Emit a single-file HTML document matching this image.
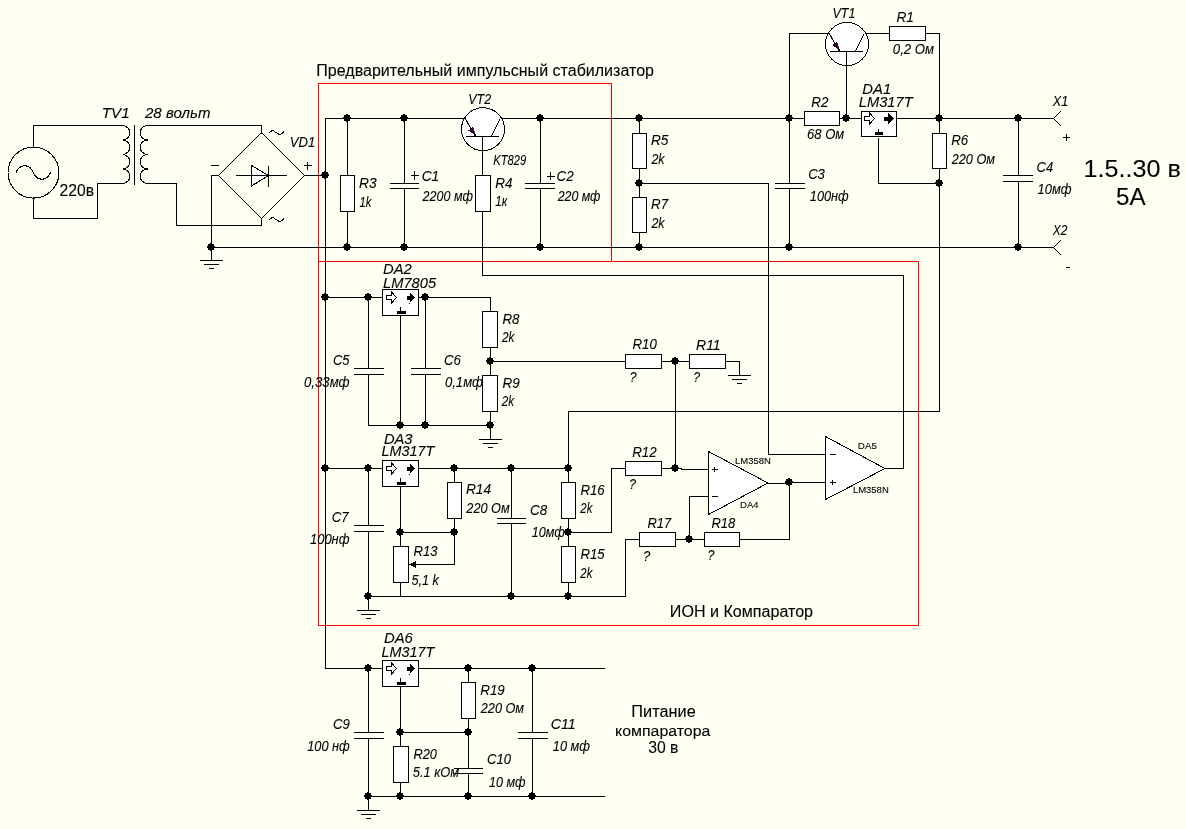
<!DOCTYPE html>
<html><head><meta charset="utf-8"><style>html,body{margin:0;padding:0;background:#fffff2;}svg{display:block;}</style></head>
<body><svg width="1186" height="829" viewBox="0 0 1186 829">
<rect width="1186" height="829" fill="#fffff2"/>
<g fill="none" stroke="#ff0000" stroke-width="1" shape-rendering="crispEdges"><rect x="318.5" y="83.5" width="293" height="178"/><rect x="318.5" y="261.5" width="600" height="364"/></g>
<g fill="none" stroke="#000" stroke-width="1" stroke-linecap="square" shape-rendering="crispEdges"><path d="M33.5,125.5 L33.5,147.5"/><path d="M33.5,125.5 L122.5,125.5"/><path d="M33.5,197.5 L33.5,218.5"/><path d="M33.5,218.5 L97.5,218.5"/><path d="M97.5,218.5 L97.5,183.5"/><path d="M97.5,183.5 L122.5,183.5"/><path d="M134.5,125.5 L134.5,184.5"/><path d="M147.5,125.5 L261.5,125.5"/><path d="M261.5,125.5 L261.5,133.5"/><path d="M147.5,183.5 L176.5,183.5"/><path d="M176.5,183.5 L176.5,225.5"/><path d="M176.5,225.5 L261.5,225.5"/><path d="M261.5,225.5 L261.5,218.5"/><path d="M211.5,175.5 L218.5,175.5"/><path d="M211.5,175.5 L211.5,247.5"/><path d="M304.5,175.5 L325.5,175.5"/><path d="M211.5,247.5 L211.5,260.5"/><path d="M200.5,260.5 L222.5,260.5"/><path d="M204.5,264.5 L218.5,264.5"/><path d="M209.5,268.5 L213.5,268.5"/><path d="M211.5,165.5 L218.5,165.5"/><path d="M304.5,165.5 L311.5,165.5"/><path d="M307.5,162.5 L307.5,169.5"/><path d="M211.5,247.5 L1053.5,247.5"/><path d="M325.5,118.5 L325.5,668.5"/><path d="M325.5,118.5 L465.5,118.5"/><path d="M500.5,118.5 L804.5,118.5"/><path d="M839.5,118.5 L861.5,118.5"/><path d="M896.5,118.5 L1053.5,118.5"/><path d="M347.5,118.5 L347.5,247.5"/><path d="M404.5,118.5 L404.5,183.5"/><path d="M404.5,188.5 L404.5,247.5"/><path d="M390.5,183.5 L418.5,183.5"/><path d="M390.5,188.5 L418.5,188.5"/><path d="M411.5,175.5 L418.5,175.5"/><path d="M414.5,171.5 L414.5,179.5"/><path d="M482.5,136.5 L482.5,275.5"/><path d="M482.5,275.5 L903.5,275.5"/><path d="M903.5,275.5 L903.5,468.5"/><path d="M885.5,468.5 L903.5,468.5"/><path d="M540.5,118.5 L540.5,183.5"/><path d="M540.5,188.5 L540.5,247.5"/><path d="M525.5,183.5 L554.5,183.5"/><path d="M525.5,188.5 L554.5,188.5"/><path d="M547.5,176.5 L554.5,176.5"/><path d="M550.5,172.5 L550.5,179.5"/><path d="M639.5,118.5 L639.5,247.5"/><path d="M639.5,183.5 L768.5,183.5"/><path d="M768.5,183.5 L768.5,454.5"/><path d="M768.5,454.5 L825.5,454.5"/><path d="M789.5,33.5 L789.5,118.5"/><path d="M789.5,118.5 L789.5,183.5"/><path d="M789.5,188.5 L789.5,247.5"/><path d="M775.5,183.5 L804.5,183.5"/><path d="M775.5,188.5 L804.5,188.5"/><path d="M789.5,33.5 L829.5,33.5"/><path d="M846.5,51.5 L846.5,118.5"/><path d="M864.5,33.5 L889.5,33.5"/><path d="M925.5,33.5 L939.5,33.5"/><path d="M939.5,33.5 L939.5,411.5"/><path d="M878.5,138.5 L878.5,183.5"/><path d="M878.5,183.5 L939.5,183.5"/><path d="M1018.5,118.5 L1018.5,175.5"/><path d="M1018.5,181.5 L1018.5,247.5"/><path d="M1003.5,175.5 L1032.5,175.5"/><path d="M1003.5,181.5 L1032.5,181.5"/><path d="M1063.5,137.5 L1069.5,137.5"/><path d="M1066.5,134.5 L1066.5,140.5"/><path d="M1066.5,267.5 L1069.5,267.5"/><path d="M325.5,297.5 L382.5,297.5"/><path d="M418.5,297.5 L490.5,297.5"/><path d="M490.5,297.5 L490.5,311.5"/><path d="M368.5,297.5 L368.5,368.5"/><path d="M354.5,368.5 L383.5,368.5"/><path d="M354.5,374.5 L383.5,374.5"/><path d="M368.5,374.5 L368.5,425.5"/><path d="M425.5,297.5 L425.5,368.5"/><path d="M411.5,368.5 L440.5,368.5"/><path d="M411.5,374.5 L440.5,374.5"/><path d="M425.5,374.5 L425.5,425.5"/><path d="M400.5,315.5 L400.5,425.5"/><path d="M368.5,425.5 L490.5,425.5"/><path d="M490.5,311.5 L490.5,425.5"/><path d="M490.5,425.5 L490.5,439.5"/><path d="M479.5,439.5 L501.5,439.5"/><path d="M483.5,443.5 L497.5,443.5"/><path d="M488.5,447.5 L492.5,447.5"/><path d="M490.5,361.5 L625.5,361.5"/><path d="M661.5,361.5 L689.5,361.5"/><path d="M725.5,361.5 L739.5,361.5"/><path d="M739.5,361.5 L739.5,375.5"/><path d="M739.5,361.5 L739.5,375.5"/><path d="M728.5,375.5 L750.5,375.5"/><path d="M732.5,379.5 L746.5,379.5"/><path d="M737.5,383.5 L741.5,383.5"/><path d="M675.5,361.5 L675.5,468.5"/><path d="M325.5,468.5 L382.5,468.5"/><path d="M418.5,468.5 L568.5,468.5"/><path d="M368.5,468.5 L368.5,525.5"/><path d="M354.5,525.5 L383.5,525.5"/><path d="M354.5,531.5 L383.5,531.5"/><path d="M368.5,531.5 L368.5,596.5"/><path d="M368.5,596.5 L368.5,610.5"/><path d="M357.5,610.5 L379.5,610.5"/><path d="M361.5,614.5 L375.5,614.5"/><path d="M366.5,618.5 L370.5,618.5"/><path d="M400.5,486.5 L400.5,546.5"/><path d="M400.5,532.5 L454.5,532.5"/><path d="M454.5,468.5 L454.5,564.5"/><path d="M410.5,564.5 L454.5,564.5"/><path d="M400.5,582.5 L400.5,596.5"/><path d="M368.5,596.5 L625.5,596.5"/><path d="M625.5,596.5 L625.5,539.5"/><path d="M625.5,539.5 L639.5,539.5"/><path d="M511.5,468.5 L511.5,518.5"/><path d="M497.5,518.5 L525.5,518.5"/><path d="M497.5,523.5 L525.5,523.5"/><path d="M511.5,523.5 L511.5,596.5"/><path d="M568.5,411.5 L568.5,596.5"/><path d="M568.5,411.5 L939.5,411.5"/><path d="M568.5,532.5 L611.5,532.5"/><path d="M611.5,532.5 L611.5,468.5"/><path d="M611.5,468.5 L681.5,468.5"/><path d="M681.5,468.5 L681.5,469.5"/><path d="M681.5,469.5 L708.5,469.5"/><path d="M689.5,496.5 L708.5,496.5"/><path d="M689.5,496.5 L689.5,539.5"/><path d="M675.5,539.5 L789.5,539.5"/><path d="M789.5,482.5 L789.5,539.5"/><path d="M768.5,483.5 L785.5,483.5"/><path d="M785.5,482.5 L785.5,483.5"/><path d="M785.5,482.5 L825.5,482.5"/><path d="M325.5,668.5 L382.5,668.5"/><path d="M418.5,668.5 L604.5,668.5"/><path d="M368.5,668.5 L368.5,732.5"/><path d="M354.5,732.5 L383.5,732.5"/><path d="M354.5,738.5 L383.5,738.5"/><path d="M368.5,738.5 L368.5,796.5"/><path d="M368.5,796.5 L368.5,810.5"/><path d="M357.5,810.5 L379.5,810.5"/><path d="M361.5,814.5 L375.5,814.5"/><path d="M366.5,818.5 L370.5,818.5"/><path d="M400.5,686.5 L400.5,796.5"/><path d="M400.5,732.5 L468.5,732.5"/><path d="M468.5,668.5 L468.5,768.5"/><path d="M454.5,768.5 L482.5,768.5"/><path d="M454.5,773.5 L482.5,773.5"/><path d="M468.5,773.5 L468.5,796.5"/><path d="M368.5,796.5 L604.5,796.5"/><path d="M532.5,668.5 L532.5,732.5"/><path d="M518.5,732.5 L547.5,732.5"/><path d="M518.5,738.5 L547.5,738.5"/><path d="M532.5,738.5 L532.5,796.5"/></g>
<g stroke="#000" stroke-width="1" shape-rendering="crispEdges"><rect x="340.5" y="175.5" width="14" height="36" fill="#fff"/><rect x="475.5" y="175.5" width="15" height="36" fill="#fff"/><rect x="632.5" y="133.5" width="14" height="35" fill="#fff"/><rect x="632.5" y="197.5" width="14" height="35" fill="#fff"/><rect x="889.5" y="26.5" width="36" height="14" fill="#fff"/><rect x="804.5" y="111.5" width="35" height="14" fill="#fff"/><rect x="861.5" y="111.5" width="35" height="25" fill="#fff"/><rect x="875" y="132" width="8" height="3" fill="#000" stroke="none"/><rect x="932.5" y="133.5" width="14" height="35" fill="#fff"/><rect x="382.5" y="289.5" width="36" height="26" fill="#fff"/><rect x="397" y="311" width="9" height="3" fill="#000" stroke="none"/><rect x="482.5" y="311.5" width="15" height="36" fill="#fff"/><rect x="482.5" y="375.5" width="15" height="36" fill="#fff"/><rect x="625.5" y="354.5" width="36" height="14" fill="#fff"/><rect x="689.5" y="354.5" width="36" height="14" fill="#fff"/><rect x="382.5" y="460.5" width="36" height="26" fill="#fff"/><rect x="397" y="482" width="9" height="3" fill="#000" stroke="none"/><rect x="447.5" y="482.5" width="14" height="36" fill="#fff"/><rect x="393.5" y="546.5" width="15" height="36" fill="#fff"/><rect x="561.5" y="482.5" width="14" height="36" fill="#fff"/><rect x="561.5" y="546.5" width="14" height="36" fill="#fff"/><rect x="625.5" y="461.5" width="36" height="14" fill="#fff"/><rect x="639.5" y="532.5" width="36" height="14" fill="#fff"/><rect x="704.5" y="532.5" width="35" height="14" fill="#fff"/><rect x="382.5" y="660.5" width="36" height="26" fill="#fff"/><rect x="397" y="682" width="9" height="3" fill="#000" stroke="none"/><rect x="461.5" y="682.5" width="14" height="36" fill="#fff"/><rect x="393.5" y="746.5" width="15" height="36" fill="#fff"/></g>
<g shape-rendering="crispEdges"><circle cx="33.5" cy="172.6" r="25.5" fill="none" stroke="#000" stroke-width="1"/><path d="M16,172.5 C20,163.5 29.5,163.5 33.25,172.5 C37,181.5 46.5,181.5 50.5,172.5" fill="none" stroke="#000" stroke-width="1.1"/><path d="M122.5,125.5 A7.25,7.25 0 0 1 122.5,140.0 A7.25,7.25 0 0 1 122.5,154.5 A7.25,7.25 0 0 1 122.5,169.0 A7.25,7.25 0 0 1 122.5,183.5" fill="none" stroke="#000" stroke-width="1.1"/><path d="M147.5,125.5 A7.25,7.25 0 0 0 147.5,140.0 A7.25,7.25 0 0 0 147.5,154.5 A7.25,7.25 0 0 0 147.5,169.0 A7.25,7.25 0 0 0 147.5,183.5" fill="none" stroke="#000" stroke-width="1.1"/><path d="M261.5,132.5 L304.5,175.5 L261.5,218.5 L218.5,175.5 Z" fill="none" stroke="#000" stroke-width="1.1"/><path d="M251.5,165.5 L268.5,175.5 L251.5,186 Z" fill="#fff" stroke="#000" stroke-width="1.1"/><path d="M268.5,133.5 q3.5,-5 7.5,-1 t8,-1" fill="none" stroke="#000" stroke-width="1"/><path d="M268.5,220.5 q3.5,-5 7.5,-1 t8,-1" fill="none" stroke="#000" stroke-width="1"/><circle cx="483" cy="129.2" r="21.5" fill="#fff" stroke="#000" stroke-width="1"/><path d="M465.25,118.4 L475.5,136.5" stroke="#000" stroke-width="1.1" fill="none"/><path d="M468.5,130.5 L472.5,126.99999999999999 L475.5,135.5 Z" fill="#400040" stroke="#000" stroke-width="0.8"/><path d="M491.2,136.5 L500.2,118.8" stroke="#000" stroke-width="1.1" fill="none"/><circle cx="847" cy="44" r="21.5" fill="#fff" stroke="#000" stroke-width="1"/><path d="M829.25,33.4 L839.5,51.5" stroke="#000" stroke-width="1.1" fill="none"/><path d="M832.5,45.3 L836.5,41.8 L839.5,50.3 Z" fill="#400040" stroke="#000" stroke-width="0.8"/><path d="M855.2,51.5 L864.2,33.8" stroke="#000" stroke-width="1.1" fill="none"/><path d="M864.5,116.5 H869.0 V112.5 L874.5,118.5 L869.0,124.5 V120.5 H864.5 Z" fill="#fff" stroke="#000" stroke-width="1"/><path d="M884.0,116.5 H887.5 V112.5 L893.5,118.5 L887.5,124.5 V120.5 H884.0 Z" fill="#000" stroke="none"/><path d="M1061,111 L1053.5,118.5 L1061,126" fill="none" stroke="#000" stroke-width="1"/><path d="M1061,240 L1053.5,247.5 L1061,255" fill="none" stroke="#000" stroke-width="1"/><path d="M386.5,295.5 H391.0 V291.5 L396.5,297.5 L391.0,303.5 V299.5 H386.5 Z" fill="#fff" stroke="#000" stroke-width="1"/><path d="M406.5,295.5 H409.5 V291.5 L415.0,297.5 L409.5,303.5 V299.5 H406.5 Z" fill="#000" stroke="none"/><path d="M386.5,466.5 H391.0 V462.5 L396.5,468.5 L391.0,474.5 V470.5 H386.5 Z" fill="#fff" stroke="#000" stroke-width="1"/><path d="M406.5,466.5 H409.5 V462.5 L415.0,468.5 L409.5,474.5 V470.5 H406.5 Z" fill="#000" stroke="none"/><path d="M409.5,564.5 L415.5,561 L415.5,568 Z" fill="#000"/><path d="M708.5,451.5 L768,483 L708.5,514.5 Z" fill="#fff" stroke="#000" stroke-width="1"/><path d="M825.5,436.5 L885,468.5 L825.5,499.5 Z" fill="#fff" stroke="#000" stroke-width="1"/><path d="M386.5,666.5 H391.0 V662.5 L396.5,668.5 L391.0,674.5 V670.5 H386.5 Z" fill="#fff" stroke="#000" stroke-width="1"/><path d="M406.5,666.5 H409.5 V662.5 L415.0,668.5 L409.5,674.5 V670.5 H406.5 Z" fill="#000" stroke="none"/></g>
<g fill="none" stroke="#000" stroke-width="1" stroke-linecap="square" shape-rendering="crispEdges"><path d="M236.5,175.5 L286.5,175.5"/><path d="M268.5,166.5 L268.5,186.5"/><path d="M466.5,136.5 L498.5,136.5"/><path d="M482.5,136.5 L482.5,151.5"/><path d="M830.5,51.5 L862.5,51.5"/><path d="M846.5,51.5 L846.5,66.5"/><path d="M878.5,129.5 L878.5,132.5"/><path d="M400.5,307.5 L400.5,311.5"/><path d="M400.5,478.5 L400.5,482.5"/><path d="M712.5,496.5 L717.5,496.5"/><path d="M712.5,469.5 L717.5,469.5"/><path d="M714.5,467.5 L714.5,471.5"/><path d="M830.5,454.5 L835.5,454.5"/><path d="M830.5,482.5 L835.5,482.5"/><path d="M832.5,480.5 L832.5,484.5"/><path d="M400.5,678.5 L400.5,682.5"/></g>
<g fill="#000" shape-rendering="crispEdges"><circle cx="347" cy="118" r="3.6"/><circle cx="404" cy="118" r="3.6"/><circle cx="540" cy="118" r="3.6"/><circle cx="639" cy="118" r="3.6"/><circle cx="789" cy="118" r="3.6"/><circle cx="846" cy="118" r="3.6"/><circle cx="939" cy="118" r="3.6"/><circle cx="1018" cy="118" r="3.6"/><circle cx="325" cy="175" r="3.6"/><circle cx="211" cy="247" r="3.6"/><circle cx="347" cy="247" r="3.6"/><circle cx="404" cy="247" r="3.6"/><circle cx="540" cy="247" r="3.6"/><circle cx="639" cy="247" r="3.6"/><circle cx="789" cy="247" r="3.6"/><circle cx="1018" cy="247" r="3.6"/><circle cx="639" cy="183" r="3.6"/><circle cx="939" cy="183" r="3.6"/><circle cx="325" cy="297" r="3.6"/><circle cx="368" cy="297" r="3.6"/><circle cx="425" cy="297" r="3.6"/><circle cx="400" cy="425" r="3.6"/><circle cx="425" cy="425" r="3.6"/><circle cx="490" cy="425" r="3.6"/><circle cx="490" cy="361" r="3.6"/><circle cx="675" cy="361" r="3.6"/><circle cx="325" cy="468" r="3.6"/><circle cx="368" cy="468" r="3.6"/><circle cx="454" cy="468" r="3.6"/><circle cx="511" cy="468" r="3.6"/><circle cx="568" cy="468" r="3.6"/><circle cx="368" cy="596" r="3.6"/><circle cx="400" cy="532" r="3.6"/><circle cx="454" cy="532" r="3.6"/><circle cx="511" cy="596" r="3.6"/><circle cx="568" cy="532" r="3.6"/><circle cx="568" cy="596" r="3.6"/><circle cx="675" cy="468" r="3.6"/><circle cx="689" cy="539" r="3.6"/><circle cx="789" cy="482" r="3.6"/><circle cx="368" cy="668" r="3.6"/><circle cx="468" cy="668" r="3.6"/><circle cx="532" cy="668" r="3.6"/><circle cx="368" cy="796" r="3.6"/><circle cx="400" cy="732" r="3.6"/><circle cx="468" cy="732" r="3.6"/><circle cx="400" cy="796" r="3.6"/><circle cx="468" cy="796" r="3.6"/><circle cx="532" cy="796" r="3.6"/></g>
<g fill="#000" stroke="#000" stroke-width="0.1" style="will-change:transform" font-family="'Liberation Sans', sans-serif"><text id="t0" x="101.84" y="117.60" font-size="14.90" font-style="italic" textLength="27.85" lengthAdjust="spacingAndGlyphs">TV1</text><text id="t1" x="144.99" y="117.60" font-size="14.90" font-style="italic" textLength="65.50" lengthAdjust="spacingAndGlyphs">28 вольт</text><text id="t2" x="59.61" y="195.60" font-size="15.60" textLength="34.47" lengthAdjust="spacingAndGlyphs">220в</text><text id="t3" x="289.77" y="147.10" font-size="14.90" font-style="italic" textLength="25.43" lengthAdjust="spacingAndGlyphs">VD1</text><text id="t4" x="316.31" y="75.60" font-size="15.60" textLength="337.66" lengthAdjust="spacingAndGlyphs">Предварительный импульсный стабилизатор</text><text id="t5" x="468.33" y="103.60" font-size="14.90" font-style="italic" textLength="22.75" lengthAdjust="spacingAndGlyphs">VT2</text><text id="t6" x="493.26" y="164.60" font-size="14.90" font-style="italic" textLength="32.87" lengthAdjust="spacingAndGlyphs">KT829</text><text id="t7" x="359.08" y="187.90" font-size="14.90" font-style="italic" textLength="17.54" lengthAdjust="spacingAndGlyphs">R3</text><text id="t8" x="359.51" y="206.90" font-size="14.90" font-style="italic" textLength="11.82" lengthAdjust="spacingAndGlyphs">1k</text><text id="t9" x="421.74" y="181.00" font-size="14.90" font-style="italic" textLength="17.51" lengthAdjust="spacingAndGlyphs">C1</text><text id="t10" x="422.57" y="201.00" font-size="14.90" font-style="italic" textLength="50.32" lengthAdjust="spacingAndGlyphs">2200 мф</text><text id="t11" x="495.19" y="187.90" font-size="14.90" font-style="italic" textLength="17.22" lengthAdjust="spacingAndGlyphs">R4</text><text id="t12" x="495.30" y="206.40" font-size="14.90" font-style="italic" textLength="12.03" lengthAdjust="spacingAndGlyphs">1к</text><text id="t13" x="556.56" y="181.10" font-size="14.90" font-style="italic" textLength="17.14" lengthAdjust="spacingAndGlyphs">C2</text><text id="t14" x="557.67" y="200.90" font-size="14.90" font-style="italic" textLength="42.82" lengthAdjust="spacingAndGlyphs">220 мф</text><text id="t15" x="650.98" y="145.10" font-size="14.90" font-style="italic" textLength="17.49" lengthAdjust="spacingAndGlyphs">R5</text><text id="t16" x="651.47" y="164.20" font-size="14.90" font-style="italic" textLength="13.11" lengthAdjust="spacingAndGlyphs">2k</text><text id="t17" x="650.99" y="208.80" font-size="14.90" font-style="italic" textLength="17.10" lengthAdjust="spacingAndGlyphs">R7</text><text id="t18" x="651.47" y="227.90" font-size="14.90" font-style="italic" textLength="13.11" lengthAdjust="spacingAndGlyphs">2k</text><text id="t19" x="808.18" y="178.90" font-size="14.90" font-style="italic" textLength="16.74" lengthAdjust="spacingAndGlyphs">C3</text><text id="t20" x="809.87" y="200.80" font-size="14.90" font-style="italic" textLength="38.83" lengthAdjust="spacingAndGlyphs">100нф</text><text id="t21" x="832.52" y="17.50" font-size="14.90" font-style="italic" textLength="22.94" lengthAdjust="spacingAndGlyphs">VT1</text><text id="t22" x="896.38" y="21.70" font-size="14.90" font-style="italic" textLength="17.48" lengthAdjust="spacingAndGlyphs">R1</text><text id="t23" x="892.83" y="54.30" font-size="14.90" font-style="italic" textLength="41.22" lengthAdjust="spacingAndGlyphs">0,2 Ом</text><text id="t24" x="811.29" y="106.60" font-size="14.90" font-style="italic" textLength="17.11" lengthAdjust="spacingAndGlyphs">R2</text><text id="t25" x="807.07" y="139.10" font-size="14.90" font-style="italic" textLength="37.18" lengthAdjust="spacingAndGlyphs">68 Ом</text><text id="t26" x="862.24" y="94.35" font-size="14.90" font-style="italic" textLength="28.91" lengthAdjust="spacingAndGlyphs">DA1</text><text id="t27" x="858.85" y="106.60" font-size="14.90" font-style="italic" textLength="53.78" lengthAdjust="spacingAndGlyphs">LM317T</text><text id="t28" x="951.19" y="145.30" font-size="14.90" font-style="italic" textLength="17.01" lengthAdjust="spacingAndGlyphs">R6</text><text id="t29" x="951.67" y="163.80" font-size="14.90" font-style="italic" textLength="43.37" lengthAdjust="spacingAndGlyphs">220 Ом</text><text id="t30" x="1036.58" y="172.30" font-size="14.90" font-style="italic" textLength="16.61" lengthAdjust="spacingAndGlyphs">C4</text><text id="t31" x="1037.57" y="194.00" font-size="14.90" font-style="italic" textLength="33.94" lengthAdjust="spacingAndGlyphs">10мф</text><text id="t32" x="1052.74" y="105.90" font-size="14.90" font-style="italic" textLength="15.43" lengthAdjust="spacingAndGlyphs">X1</text><text id="t33" x="1052.73" y="234.60" font-size="14.90" font-style="italic" textLength="14.55" lengthAdjust="spacingAndGlyphs">X2</text><text id="t34" x="1083.58" y="177.00" font-size="24.20" textLength="97.31" lengthAdjust="spacingAndGlyphs">1.5..30 в</text><text id="t35" x="1115.93" y="205.40" font-size="24.20" textLength="29.62" lengthAdjust="spacingAndGlyphs">5A</text><text id="t36" x="383.05" y="273.60" font-size="14.90" font-style="italic" textLength="28.77" lengthAdjust="spacingAndGlyphs">DA2</text><text id="t37" x="383.05" y="288.10" font-size="14.90" font-style="italic" textLength="53.02" lengthAdjust="spacingAndGlyphs">LM7805</text><text id="t38" x="332.98" y="364.70" font-size="14.90" font-style="italic" textLength="16.58" lengthAdjust="spacingAndGlyphs">C5</text><text id="t39" x="304.03" y="386.70" font-size="14.90" font-style="italic" textLength="45.49" lengthAdjust="spacingAndGlyphs">0,33мф</text><text id="t40" x="444.07" y="364.70" font-size="14.90" font-style="italic" textLength="16.83" lengthAdjust="spacingAndGlyphs">C6</text><text id="t41" x="444.93" y="386.70" font-size="14.90" font-style="italic" textLength="37.98" lengthAdjust="spacingAndGlyphs">0,1мф</text><text id="t42" x="502.49" y="323.70" font-size="14.90" font-style="italic" textLength="16.99" lengthAdjust="spacingAndGlyphs">R8</text><text id="t43" x="502.07" y="341.80" font-size="14.90" font-style="italic" textLength="12.34" lengthAdjust="spacingAndGlyphs">2k</text><text id="t44" x="502.49" y="387.60" font-size="14.90" font-style="italic" textLength="17.19" lengthAdjust="spacingAndGlyphs">R9</text><text id="t45" x="501.77" y="406.10" font-size="14.90" font-style="italic" textLength="12.34" lengthAdjust="spacingAndGlyphs">2k</text><text id="t46" x="632.49" y="349.40" font-size="14.90" font-style="italic" textLength="24.32" lengthAdjust="spacingAndGlyphs">R10</text><text id="t47" x="629.40" y="381.50" font-size="14.90" font-style="italic" textLength="7.13" lengthAdjust="spacingAndGlyphs">?</text><text id="t48" x="696.09" y="349.80" font-size="14.90" font-style="italic" textLength="24.54" lengthAdjust="spacingAndGlyphs">R11</text><text id="t49" x="693.35" y="381.70" font-size="14.90" font-style="italic" textLength="6.78" lengthAdjust="spacingAndGlyphs">?</text><text id="t50" x="383.95" y="443.70" font-size="14.90" font-style="italic" textLength="28.58" lengthAdjust="spacingAndGlyphs">DA3</text><text id="t51" x="381.46" y="456.30" font-size="14.90" font-style="italic" textLength="52.89" lengthAdjust="spacingAndGlyphs">LM317T</text><text id="t52" x="465.88" y="494.35" font-size="14.90" font-style="italic" textLength="25.24" lengthAdjust="spacingAndGlyphs">R14</text><text id="t53" x="466.37" y="512.90" font-size="14.90" font-style="italic" textLength="43.37" lengthAdjust="spacingAndGlyphs">220 Ом</text><text id="t54" x="331.77" y="521.90" font-size="14.90" font-style="italic" textLength="16.92" lengthAdjust="spacingAndGlyphs">C7</text><text id="t55" x="310.07" y="544.20" font-size="14.90" font-style="italic" textLength="39.44" lengthAdjust="spacingAndGlyphs">100нф</text><text id="t56" x="413.50" y="556.00" font-size="14.90" font-style="italic" textLength="23.92" lengthAdjust="spacingAndGlyphs">R13</text><text id="t57" x="411.41" y="584.70" font-size="14.90" font-style="italic" textLength="27.55" lengthAdjust="spacingAndGlyphs">5,1 k</text><text id="t58" x="530.06" y="514.80" font-size="14.90" font-style="italic" textLength="17.22" lengthAdjust="spacingAndGlyphs">C8</text><text id="t59" x="531.78" y="536.90" font-size="14.90" font-style="italic" textLength="33.02" lengthAdjust="spacingAndGlyphs">10мф</text><text id="t60" x="580.39" y="494.50" font-size="14.90" font-style="italic" textLength="24.21" lengthAdjust="spacingAndGlyphs">R16</text><text id="t61" x="580.37" y="512.60" font-size="14.90" font-style="italic" textLength="11.96" lengthAdjust="spacingAndGlyphs">2k</text><text id="t62" x="580.39" y="558.90" font-size="14.90" font-style="italic" textLength="24.17" lengthAdjust="spacingAndGlyphs">R15</text><text id="t63" x="580.37" y="577.50" font-size="14.90" font-style="italic" textLength="11.96" lengthAdjust="spacingAndGlyphs">2k</text><text id="t64" x="632.19" y="457.00" font-size="14.90" font-style="italic" textLength="24.51" lengthAdjust="spacingAndGlyphs">R12</text><text id="t65" x="629.12" y="488.90" font-size="14.90" font-style="italic" textLength="7.02" lengthAdjust="spacingAndGlyphs">?</text><text id="t66" x="647.50" y="527.60" font-size="14.90" font-style="italic" textLength="23.80" lengthAdjust="spacingAndGlyphs">R17</text><text id="t67" x="642.89" y="560.60" font-size="14.90" font-style="italic" textLength="7.25" lengthAdjust="spacingAndGlyphs">?</text><text id="t68" x="711.40" y="527.90" font-size="14.90" font-style="italic" textLength="23.77" lengthAdjust="spacingAndGlyphs">R18</text><text id="t69" x="707.42" y="560.00" font-size="14.90" font-style="italic" textLength="7.02" lengthAdjust="spacingAndGlyphs">?</text><text id="t70" x="735.02" y="463.90" font-size="9.50" textLength="35.85" lengthAdjust="spacingAndGlyphs">LM358N</text><text id="t71" x="740.12" y="507.80" font-size="9.50" textLength="18.46" lengthAdjust="spacingAndGlyphs">DA4</text><text id="t72" x="857.89" y="448.80" font-size="9.50" textLength="19.12" lengthAdjust="spacingAndGlyphs">DA5</text><text id="t73" x="852.92" y="492.60" font-size="9.50" textLength="35.85" lengthAdjust="spacingAndGlyphs">LM358N</text><text id="t74" x="669.89" y="617.30" font-size="15.60" textLength="143.19" lengthAdjust="spacingAndGlyphs">ИОН и Компаратор</text><text id="t75" x="383.94" y="643.40" font-size="14.90" font-style="italic" textLength="28.96" lengthAdjust="spacingAndGlyphs">DA6</text><text id="t76" x="381.46" y="656.60" font-size="14.90" font-style="italic" textLength="52.89" lengthAdjust="spacingAndGlyphs">LM317T</text><text id="t77" x="332.97" y="728.80" font-size="14.90" font-style="italic" textLength="16.90" lengthAdjust="spacingAndGlyphs">C9</text><text id="t78" x="307.17" y="750.70" font-size="14.90" font-style="italic" textLength="42.64" lengthAdjust="spacingAndGlyphs">100 нф</text><text id="t79" x="480.29" y="694.90" font-size="14.90" font-style="italic" textLength="24.48" lengthAdjust="spacingAndGlyphs">R19</text><text id="t80" x="480.77" y="712.60" font-size="14.90" font-style="italic" textLength="43.27" lengthAdjust="spacingAndGlyphs">220 Ом</text><text id="t81" x="413.51" y="758.90" font-size="14.90" font-style="italic" textLength="23.50" lengthAdjust="spacingAndGlyphs">R20</text><text id="t82" x="412.81" y="777.10" font-size="14.90" font-style="italic" textLength="46.33" lengthAdjust="spacingAndGlyphs">5.1 кОм</text><text id="t83" x="487.08" y="763.80" font-size="14.90" font-style="italic" textLength="23.93" lengthAdjust="spacingAndGlyphs">C10</text><text id="t84" x="489.08" y="787.00" font-size="14.90" font-style="italic" textLength="36.32" lengthAdjust="spacingAndGlyphs">10 мф</text><text id="t85" x="550.75" y="729.10" font-size="14.90" font-style="italic" textLength="25.00" lengthAdjust="spacingAndGlyphs">C11</text><text id="t86" x="552.77" y="751.10" font-size="14.90" font-style="italic" textLength="37.13" lengthAdjust="spacingAndGlyphs">10 мф</text><text id="t87" x="631.38" y="717.40" font-size="15.60" textLength="64.34" lengthAdjust="spacingAndGlyphs">Питание</text><text id="t88" x="615.13" y="735.60" font-size="15.10" textLength="95.17" lengthAdjust="spacingAndGlyphs">компаратора</text><text id="t89" x="648.20" y="752.80" font-size="15.60" textLength="30.29" lengthAdjust="spacingAndGlyphs">30 в</text></g>
</svg></body></html>
